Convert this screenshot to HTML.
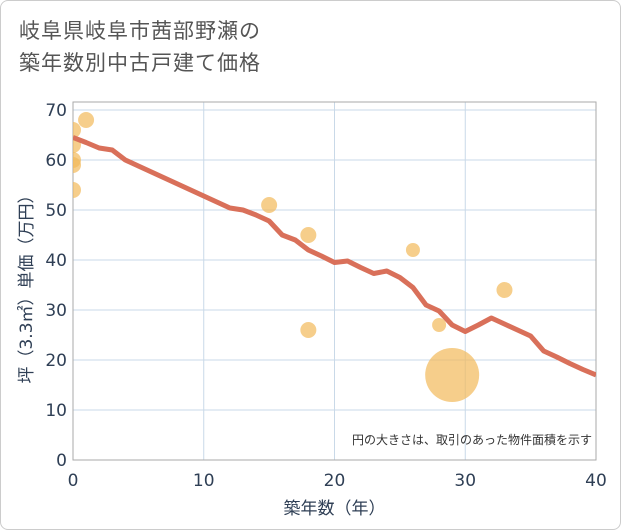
<!DOCTYPE html>
<html><head><meta charset="utf-8"><style>
body{margin:0;background:#fff;font-family:"DejaVu Sans","Noto Sans CJK JP",sans-serif;}
#wrap{position:relative;width:619px;height:528px;border:1px solid #ccc;border-radius:8px;overflow:hidden;background:#fff}
.t{position:absolute;left:18px;top:14px;font-size:21px;line-height:32px;color:#555;letter-spacing:1px}
</style></head><body>
<div id="wrap">
<div class="t">岐阜県岐阜市茜部野瀬の<br>築年数別中古戸建て価格</div>
<svg id="c" width="621" height="530" style="position:absolute;left:-1px;top:-1px"></svg>
</div>
<script>
const lineX=[0,1,2,3,4,5,6,7,8,9,10,11,12,13,14,15,16,17,18,19,20,21,22,23,24,25,26,27,28,29,30,31,32,33,34,35,36,37,38,39,40];
const lineY=[64.5,63.5,62.4,62,60,58.8,57.6,56.4,55.2,54,52.8,51.6,50.4,50,49,47.8,45,44,42,40.8,39.5,39.8,38.5,37.3,37.8,36.5,34.5,31,29.8,27,25.7,27,28.4,27.2,26,24.8,21.8,20.6,19.3,18.1,17];
const bx=[0,0,0,0,0,1,15,18,18,26,28,29,33];
const by=[66,63,60,59,54,68,51,45,26,42,27,17,34];
const br=[8,8,8,8,8,8,8,8,8,7,7,27,8];
const xTicks=[0,10,20,30,40];
const yTicks=[0,10,20,30,40,50,60,70];
const svg=document.getElementById('c');const NS='http://www.w3.org/2000/svg';
const L=73,R=596,T=110,B=460;
const sx=v=>L+(R-L)*v/40, sy=v=>B-(B-T)*v/70;
function mk(t,a,par){const e=document.createElementNS(NS,t);for(const k in a)e.setAttribute(k,a[k]);(par||svg).appendChild(e);return e;}
const defs=mk('defs',{});const cp=mk('clipPath',{id:'pc'},defs);mk('rect',{x:L,y:T-8,width:R-L,height:B-T+8},cp);
for(const v of xTicks){const g=mk('line',{x1:sx(v),x2:sx(v),y1:T-8,y2:B,stroke:'#c9d9e8','stroke-width':1});

const t=mk('text',{x:sx(v),y:B+26,'text-anchor':'middle','font-size':17,fill:'#2f3f55'});t.textContent=v;
}
for(const v of yTicks){const g=mk('line',{x1:L,x2:R,y1:sy(v),y2:sy(v),stroke:'#c9d9e8','stroke-width':1});

const t=mk('text',{x:L-6,y:sy(v)+6,'text-anchor':'end','font-size':17,fill:'#2f3f55'});t.textContent=v;
}
const fr=mk('rect',{x:L,y:T-8,width:R-L,height:B-T+8,fill:'none',stroke:'#aaa'});

const gb=mk('g',{'clip-path':'url(#pc)'});
for(let i=0;i<bx.length;i++){const c=mk('circle',{cx:sx(bx[i]),cy:sy(by[i]),r:br[i],fill:'#f2b95a','fill-opacity':0.7},gb);
}
const p=mk('polyline',{points:lineX.map((x,i)=>sx(x)+','+sy(lineY[i])).join(' '),fill:'none',stroke:'#d9705a','stroke-width':5,'stroke-linejoin':'round'},gb);

const n=mk('text',{x:592,y:444,'text-anchor':'end','font-size':12,fill:'#333'});n.textContent='円の大きさは、取引のあった物件面積を示す';

const xt=mk('text',{x:sx(20),y:514,'text-anchor':'middle','font-size':17,fill:'#2f3f55'});xt.textContent='築年数（年）';

const yt=mk('text',{x:0,y:0,'text-anchor':'middle','font-size':17,fill:'#2f3f55',transform:'translate(32,285) rotate(-90)'});yt.textContent='坪（3.3㎡）単価（万円）';

</script>
</body></html>
